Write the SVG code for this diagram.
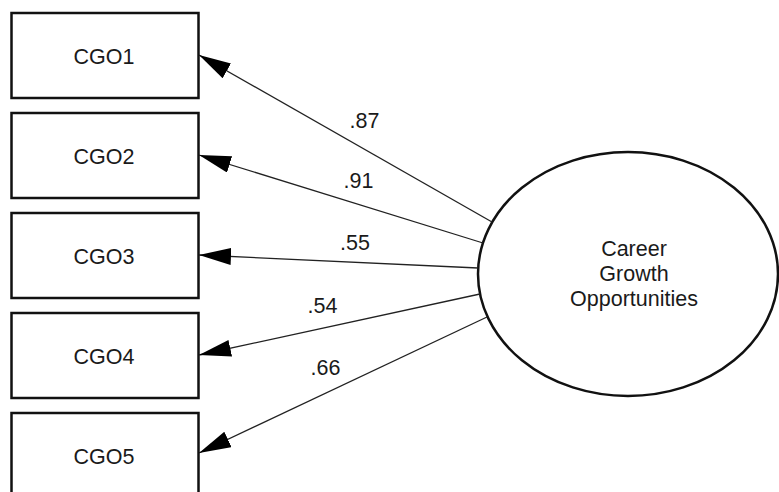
<svg xmlns="http://www.w3.org/2000/svg" width="779" height="492" viewBox="0 0 779 492">
  <style>
    .box { fill: #ffffff; stroke: #111111; stroke-width: 2.5; }
    .latent { fill: #ffffff; stroke: #111111; stroke-width: 2.5; }
    .label { font-family: "Liberation Sans", Arial, sans-serif; font-size: 21.5px; fill: #1a1a1a; text-anchor: middle; }
    .path { stroke: #222222; stroke-width: 1.3; fill: none; marker-end: url(#head); }
  </style>
  <defs>
    <marker id="head" markerUnits="userSpaceOnUse" markerWidth="34" markerHeight="18" refX="32" refY="8.5" orient="auto">
      <path d="M0,0 L32,8.5 L0,17 z" fill="#000000"/>
    </marker>
  </defs>
  <rect width="779" height="492" fill="#ffffff"/>

  <!-- observed indicators -->
  <g id="CGO1">
    <rect class="box" x="11.5" y="13" width="187" height="85"/>
    <text class="label" x="104" y="64">CGO1</text>
  </g>
  <g id="CGO2">
    <rect class="box" x="11.5" y="113" width="187" height="85"/>
    <text class="label" x="104" y="164">CGO2</text>
  </g>
  <g id="CGO3">
    <rect class="box" x="11.5" y="213" width="187" height="85"/>
    <text class="label" x="104" y="264">CGO3</text>
  </g>
  <g id="CGO4">
    <rect class="box" x="11.5" y="313" width="187" height="85"/>
    <text class="label" x="104" y="364">CGO4</text>
  </g>
  <g id="CGO5">
    <rect class="box" x="11.5" y="413" width="187" height="85"/>
    <text class="label" x="104" y="464">CGO5</text>
  </g>

  <!-- latent factor -->
  <g id="CGO">
    <ellipse class="latent" cx="628" cy="274" rx="150" ry="122"/>
    <text class="label" x="634" y="256">Career</text>
    <text class="label" x="634" y="281">Growth</text>
    <text class="label" x="634" y="306">Opportunities</text>
  </g>

  <!-- factor loadings -->
  <g id="connectors">
    <line class="path" x1="492" y1="222" x2="199" y2="55"/>
    <line class="path" x1="483" y1="243" x2="199" y2="155"/>
    <line class="path" x1="478" y1="268" x2="199" y2="255"/>
    <line class="path" x1="480" y1="294" x2="199" y2="355"/>
    <line class="path" x1="487" y1="317" x2="199" y2="453"/>
    <text class="label" x="364.5" y="128">.87</text>
    <text class="label" x="358.5" y="188">.91</text>
    <text class="label" x="355" y="250">.55</text>
    <text class="label" x="322.5" y="313">.54</text>
    <text class="label" x="325.5" y="375">.66</text>
  </g>
</svg>
